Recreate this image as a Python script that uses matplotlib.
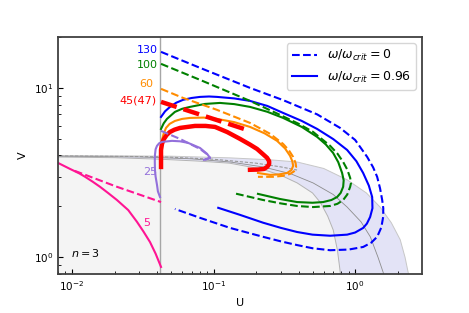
import matplotlib
matplotlib.use("Agg")
import matplotlib.pyplot as plt
from matplotlib.lines import Line2D

# U-V plane, n=3 ; curves
# background regions
inner_u = [0.007, 0.02, 0.042, 0.08, 0.13, 0.22, 0.30, 0.39, 0.50, 0.57, 0.64, 0.70, 0.75, 0.78, 0.80]
inner_v = [3.92, 3.88, 3.80, 3.70, 3.60, 3.32, 3.05, 2.75, 2.40, 2.10, 1.75, 1.45, 1.10, 0.85, 0.70]
mid_u = [0.007, 0.03, 0.07, 0.131, 0.224, 0.35, 0.505, 0.70, 0.878, 1.10, 1.28, 1.45, 1.58, 1.62]
mid_v = [3.97, 3.92, 3.82, 3.66, 3.42, 3.12, 2.75, 2.35, 1.98, 1.62, 1.32, 1.00, 0.81, 0.75]
outer_u = [0.007, 0.05, 0.131, 0.25, 0.389, 0.6, 0.878, 1.2, 1.50, 1.8, 2.08, 2.25, 2.37, 2.42]
outer_v = [4.0, 3.96, 3.87, 3.77, 3.66, 3.35, 2.87, 2.4, 1.98, 1.6, 1.27, 1.0, 0.81, 0.75]
dash_u = [0.007, 0.042, 0.1, 0.2, 0.3, 0.389]
dash_v = [3.98, 3.93, 3.80, 3.60, 3.42, 3.28]
u_edge = 0.042

# 130
b0_u = [0.0426, 0.0803, 0.181, 0.310, 0.539, 0.783, 1.0, 1.216, 1.34, 1.43, 1.50, 1.552, 1.58, 1.577, 1.53, 1.43,
        1.30, 1.139, 0.9, 0.666, 0.5, 0.389, 0.3, 0.224, 0.131, 0.0803, 0.0534]
b0_v = [16.4, 13.19, 10.04, 8.5, 7.0, 5.82, 4.94, 3.92, 3.4, 2.99, 2.55, 2.18, 1.95, 1.73, 1.50, 1.32,
        1.22, 1.15, 1.11, 1.10, 1.13, 1.18, 1.24, 1.32, 1.49, 1.71, 1.93]
b1_u = [0.0426, 0.0455, 0.0493, 0.0545, 0.0609, 0.07, 0.0803, 0.093, 0.1059, 0.14, 0.181, 0.24, 0.310, 0.42, 0.539,
        0.70, 0.878, 1.02, 1.139, 1.25, 1.319, 1.325, 1.276, 1.21, 1.139, 1.0, 0.878, 0.666, 0.5, 0.389, 0.3,
        0.224, 0.154, 0.108]
b1_v = [6.76, 7.3, 7.75, 8.2, 8.53, 8.75, 8.88, 8.93, 8.88, 8.7, 8.41, 7.85, 7.14, 6.4, 5.74,
        5.0, 4.31, 3.7, 3.15, 2.65, 2.27, 1.95, 1.73, 1.58, 1.49, 1.40, 1.36, 1.34, 1.36, 1.41, 1.49,
        1.60, 1.78, 1.96]
# 100
g0_u = [0.0426, 0.0803, 0.181, 0.295, 0.4, 0.505, 0.666, 0.75, 0.823, 0.88, 0.922, 0.935, 0.922, 0.88, 0.823,
        0.75, 0.666, 0.505, 0.389, 0.3, 0.224, 0.137]
g0_v = [13.93, 11.20, 8.41, 6.95, 6.15, 5.51, 4.56, 4.1, 3.66, 3.3, 2.95, 2.75, 2.61, 2.35, 2.18,
        2.07, 2.01, 1.98, 2.01, 2.08, 2.18, 2.40]
g1_u = [0.0426, 0.0445, 0.0469, 0.0534, 0.06, 0.0682, 0.0871, 0.111, 0.14, 0.181, 0.24, 0.310, 0.42, 0.539,
        0.62, 0.699, 0.76, 0.809, 0.83, 0.823, 0.79, 0.746, 0.68, 0.594, 0.5, 0.389, 0.295, 0.206]
g1_v = [5.74, 6.2, 6.58, 7.24, 7.55, 7.75, 8.07, 8.18, 8.05, 7.75, 7.25, 6.67, 5.9, 5.15,
        4.65, 4.14, 3.65, 3.15, 2.85, 2.61, 2.40, 2.27, 2.18, 2.12, 2.10, 2.12, 2.21, 2.37]
# 60
o0_u = [0.0426, 0.0609, 0.106, 0.181, 0.251, 0.310, 0.34, 0.365, 0.38, 0.383, 0.37, 0.347, 0.31, 0.263, 0.206]
o0_v = [9.91, 8.76, 7.44, 6.23, 5.37, 4.68, 4.3, 3.92, 3.6, 3.42, 3.22, 3.11, 3.03, 2.99, 2.99]
o1_u = [0.0426, 0.0428, 0.0433, 0.0445, 0.0462, 0.049, 0.0534, 0.06, 0.0682, 0.085, 0.106, 0.14, 0.181, 0.23,
        0.281, 0.32, 0.347, 0.36, 0.365, 0.355, 0.331, 0.29, 0.251, 0.206]
o1_v = [4.20, 4.6, 4.94, 5.4, 5.82, 6.15, 6.40, 6.58, 6.67, 6.7, 6.58, 6.3, 5.90, 5.4,
        4.88, 4.4, 3.98, 3.7, 3.47, 3.28, 3.15, 3.09, 3.07, 3.15]
# 45 (47)
r0_u = [0.0426, 0.181]
r0_v = [8.30, 5.59]
r1_u = [0.0426, 0.0426, 0.0433, 0.0447, 0.0468, 0.0493, 0.053, 0.058, 0.074, 0.088, 0.1025, 0.125, 0.154, 0.18,
        0.203, 0.225, 0.239, 0.247, 0.247, 0.24, 0.2275, 0.205, 0.181]
r1_v = [3.42, 4.31, 4.7, 5.01, 5.3, 5.51, 5.68, 5.82, 5.98, 5.98, 5.90, 5.5, 5.01, 4.65,
        4.37, 4.05, 3.87, 3.7, 3.56, 3.43, 3.33, 3.3, 3.29]
# 25
p0_u = [0.0426, 0.058, 0.0803, 0.0914, 0.0945, 0.0871]
p0_v = [5.59, 5.01, 4.37, 4.03, 3.87, 3.77]
p1_u = [0.0419, 0.0405, 0.0399, 0.039, 0.0386, 0.0385, 0.0386, 0.039, 0.0399, 0.0413, 0.0433, 0.0509, 0.058,
        0.066, 0.0803, 0.090, 0.0945, 0.0857]
p1_v = [2.27, 2.45, 2.68, 3.0, 3.29, 3.7, 4.03, 4.35, 4.56, 4.72, 4.81, 4.88, 4.85,
        4.75, 4.43, 4.09, 3.87, 3.77]
# 5
k0_u = [0.0105, 0.0208, 0.0426]
k0_v = [3.24, 2.61, 2.12]
k1_u = [0.0080, 0.0097, 0.0113, 0.0124, 0.014, 0.0158, 0.018, 0.0208, 0.025, 0.0288, 0.032, 0.0356, 0.039, 0.0426]
k1_v = [3.61, 3.33, 3.13, 2.99, 2.80, 2.61, 2.40, 2.18, 1.90, 1.62, 1.42, 1.23, 1.05, 0.876]

fig, ax = plt.subplots(figsize=(4.69, 3.13), dpi=100)
fig.subplots_adjust(left=0.124, right=0.9, bottom=0.125, top=0.882)

ybot = 0.7
ax.fill_between(inner_u + [inner_u[-1]], inner_v + [ybot], ybot, color='#f4f4f4', lw=0, zorder=0)
ax.fill(outer_u + inner_u[::-1], outer_v + inner_v[::-1], color='#e3e3f6', lw=0, zorder=0)
ax.plot(inner_u, inner_v, color='0.7', lw=0.7, zorder=1)
ax.plot(mid_u, mid_v, color='0.55', lw=0.6, zorder=1)
ax.plot(outer_u, outer_v, color='0.78', lw=0.7, zorder=1)
ax.plot(dash_u, dash_v, color='0.6', lw=0.8, ls='--', dashes=(3, 1.5), zorder=1)
ax.axvline(u_edge, color='0.65', lw=1.0, zorder=1)

lw = 1.5
ax.plot(b0_u, b0_v, color='blue', lw=lw, ls='--')
ax.plot(b1_u, b1_v, color='blue', lw=lw)
ax.plot(g0_u, g0_v, color='green', lw=lw, ls='--')
ax.plot(g1_u, g1_v, color='green', lw=lw)
ax.plot(o0_u, o0_v, color='darkorange', lw=lw, ls='--')
ax.plot(o1_u, o1_v, color='darkorange', lw=lw)
ax.plot(r0_u, r0_v, color='red', lw=3.2, ls='--')
ax.plot(r1_u, r1_v, color='red', lw=3.2)
ax.plot(p0_u, p0_v, color='mediumpurple', lw=lw, ls='--')
ax.plot(p1_u, p1_v, color='mediumpurple', lw=lw)
ax.plot(k0_u, k0_v, color='deeppink', lw=lw, ls='--')
ax.plot(k1_u, k1_v, color='deeppink', lw=lw)

fs = 8
ax.text(0.0405, 16.85, '130', color='blue', ha='right', va='center', fontsize=fs)
ax.text(0.0405, 13.74, '100', color='green', ha='right', va='center', fontsize=fs)
ax.text(0.0374, 10.6, '60', color='darkorange', ha='right', va='center', fontsize=fs)
ax.text(0.0399, 8.41, '45(47)', color='red', ha='right', va='center', fontsize=fs)
ax.text(0.0356, 3.20, '25', color='mediumpurple', ha='center', va='center', fontsize=fs)
ax.text(0.0339, 1.60, '5', color='deeppink', ha='center', va='center', fontsize=fs)
ax.text(0.0098, 1.06, '$n=3$', ha='left', va='center', fontsize=fs)

ax.set_xscale('log')
ax.set_yscale('log')
ax.set_xlim(0.008, 2.97)
ax.set_ylim(0.797, 20.1)
ax.set_xlabel('U', fontsize=fs)
ax.set_ylabel('V', fontsize=fs)
ax.tick_params(which='both', direction='in', labelsize=7.5)
for s in ax.spines.values():
    s.set_color('0.25')
    s.set_linewidth(1.3)

handles = [Line2D([], [], color='blue', lw=lw, ls='--'),
           Line2D([], [], color='blue', lw=lw)]
ax.legend(handles, [r'$\omega/\omega_{crit}=0$', r'$\omega/\omega_{crit}=0.96$'],
          loc='upper right', fontsize=9)

fig.savefig('out.png')
